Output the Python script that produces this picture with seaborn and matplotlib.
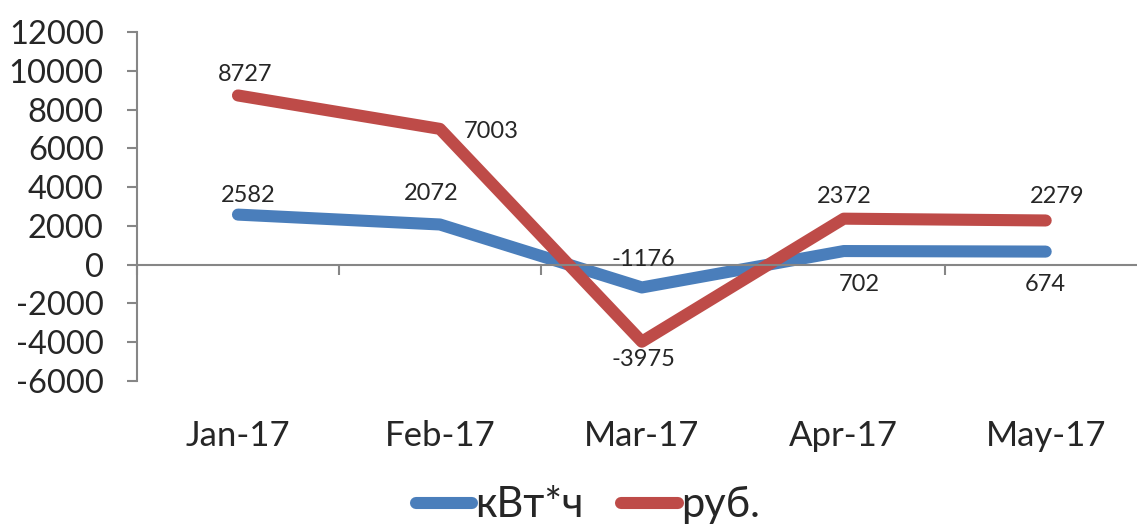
import pandas as pd
import matplotlib.pyplot as plt
import seaborn as sns

months = ['Jan-17', 'Feb-17', 'Mar-17', 'Apr-17', 'May-17']
kwh = [2582, 2072, -1176, 702, 674]
rub = [8727, 7003, -3975, 2372, 2279]
series_names = ['кВт*ч', 'руб.']
colors = ['#4a7ebb', '#be4b48']

# label offsets in points (dx, dy) for each point
kwh_offsets = [(7, 14), (-6, 22), (1, 20), (11, -24), (0, -24)]
rub_offsets = [(5, 15), (37, -2), (1, -13), (0, 16), (8, 17)]


def make_chart():
    df = pd.DataFrame({
        'month': months * 2,
        'value': kwh + rub,
        'series': [series_names[0]] * 5 + [series_names[1]] * 5,
    })

    sns.set_style('white')
    plt.rcParams['font.family'] = ['Lato', 'DejaVu Sans']
    plt.rcParams['axes.unicode_minus'] = False

    fig = plt.figure(figsize=(11.37, 5.29), dpi=100)
    ax = fig.add_axes([0.1205, 0.2798, 0.888, 0.6597])

    sns.lineplot(data=df, x='month', y='value', hue='series',
                 palette=colors, linewidth=8.7, ax=ax, sort=False,
                 solid_capstyle='round', solid_joinstyle='round')

    ax.set_xlim(-0.5, 4.5)
    ax.set_ylim(-6000, 12000)
    ax.set_yticks(range(-6000, 12001, 2000))
    ax.set_xlabel('')
    ax.set_ylabel('')

    grey = '#868686'
    for s in ['top', 'right']:
        ax.spines[s].set_visible(False)
    ax.spines['left'].set_color(grey)
    ax.spines['left'].set_linewidth(1.5)
    ax.spines['bottom'].set_color(grey)
    ax.spines['bottom'].set_linewidth(1.5)
    ax.spines['bottom'].set_position(('data', 0))

    ax.tick_params(axis='y', direction='out', length=7, width=1.5,
                   color=grey, labelsize=23.5, pad=17, left=True)
    ax.set_xticks([-0.5, 0.5, 1.5, 2.5, 3.5, 4.5], minor=True)
    ax.tick_params(axis='x', which='minor', direction='out', length=7,
                   width=1.5, color=grey, bottom=True)
    ax.tick_params(axis='x', which='major', length=0, labelsize=25, pad=112)

    for vals, offs in [(kwh, kwh_offsets), (rub, rub_offsets)]:
        for i, (v, o) in enumerate(zip(vals, offs)):
            ax.annotate(str(v), (i, v), xytext=o, textcoords='offset points',
                        ha='center', va='center', fontsize=17)

    handles, labels = ax.get_legend_handles_labels()
    ax.get_legend().remove()
    for h in handles:
        h.set_solid_capstyle('round')
    fig.legend(handles, labels, loc='lower center', bbox_to_anchor=(0.517, -0.062),
               ncol=2, frameon=False, fontsize=30, handlelength=1.35,
               handletextpad=0.08, columnspacing=0.9)

    plt.savefig('out.png', dpi=100)
    plt.close()


if __name__ == '__main__':
    make_chart()
